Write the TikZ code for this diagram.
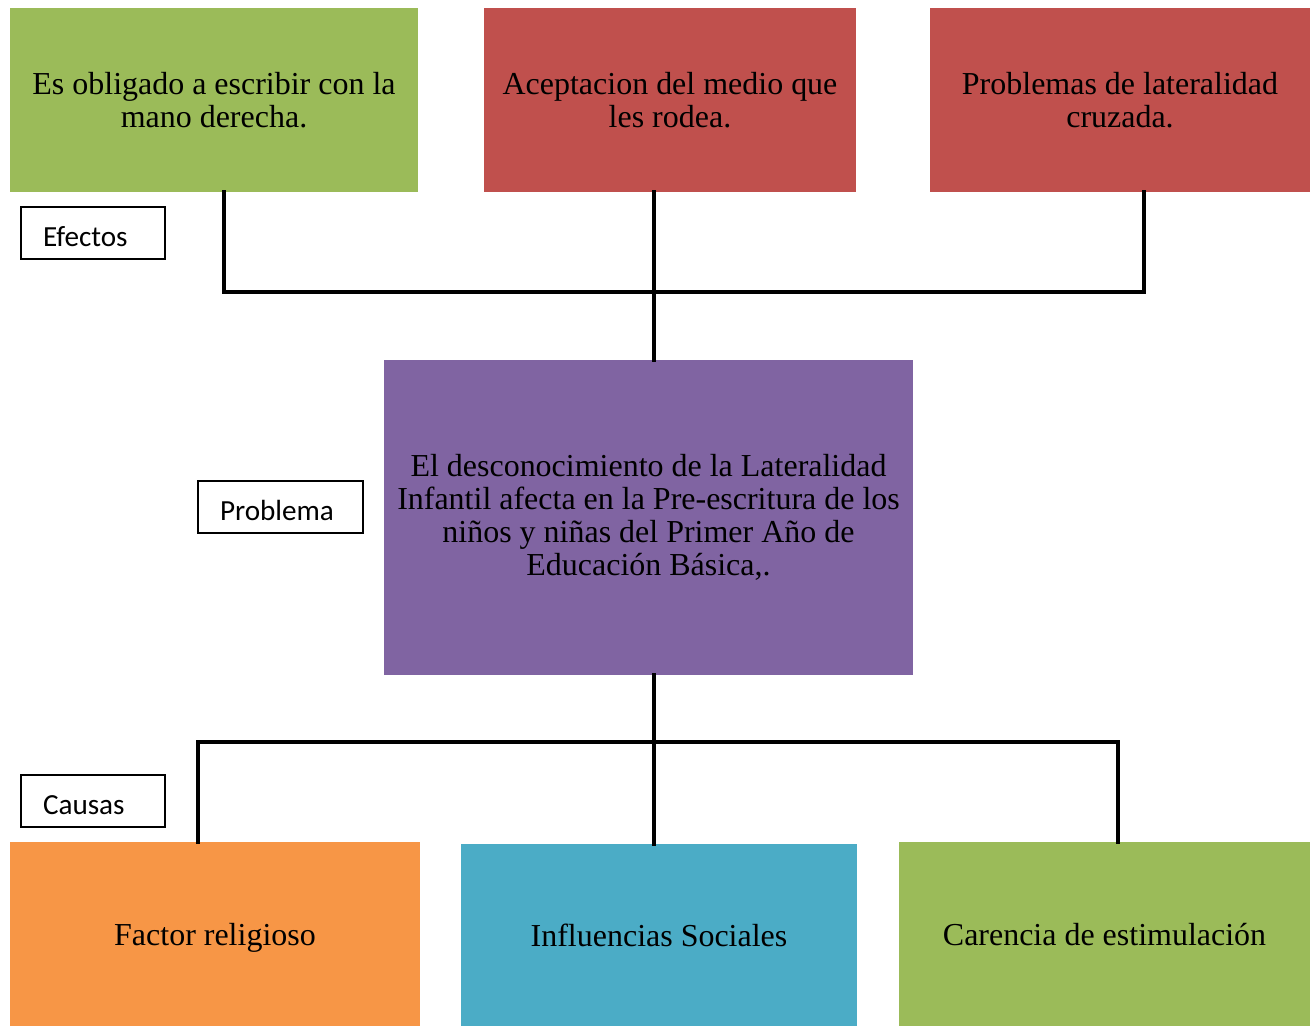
\documentclass[tikz,border=0pt]{standalone}
\usepackage{fontspec}
\setmainfont{Liberation Serif}
\newfontfamily\lblfont{Carlito}
\usetikzlibrary{positioning}

\definecolor{boxgreen}{HTML}{9BBB59}
\definecolor{boxred}{HTML}{C0504D}
\definecolor{boxpurple}{HTML}{8064A2}
\definecolor{boxorange}{HTML}{F79646}
\definecolor{boxblue}{HTML}{4BACC6}

\begin{document}
\begin{tikzpicture}[x=0.02cm, y=-0.02cm]
        \tikzset{
          item/.style={rectangle, inner sep=0pt, align=center,
            font=\fontsize{18.2}{18.8}\selectfont, minimum height=3.68cm},
          tag/.style={rectangle, draw, line width=0.8pt, inner xsep=0.44cm, inner ysep=0pt,
            align=left, minimum height=1.04cm, text height=3.4ex, text depth=0pt,
            font=\lblfont\fontsize{16.6}{18}\selectfont},
          bus/.style={line width=2.1pt, line cap=rect}
        }
        \useasboundingbox (0,0) rectangle (1314,1026);

        % efectos
        \node[item, fill=boxgreen, minimum width=8.16cm] (e_1) at (214,100) {Es obligado a escribir con la\\mano derecha.};
        \node[item, fill=boxred, minimum width=7.44cm] (e_2) at (670,100) {Aceptacion del medio que\\les rodea.};
        \node[item, fill=boxred, minimum width=7.6cm] (e_3) at (1120,100) {Problemas de lateralidad\\cruzada.};

        % problema
        \node[item, fill=boxpurple, minimum width=10.58cm, minimum height=6.3cm] (prob) at (648.5,517.5)
          {El desconocimiento de la Lateralidad\\Infantil afecta en la Pre-escritura de los\\ni\~nos y ni\~nas del Primer A\~no de\\Educaci\'on B\'asica,.};

        % causas
        \node[item, fill=boxorange, minimum width=8.2cm, text depth=0pt] (c_1) at (215,934) {Factor religioso};
        \node[item, fill=boxblue, minimum width=7.92cm, minimum height=3.64cm, text depth=0pt] (c_2) at (659,935) {Influencias Sociales};
        \node[item, fill=boxgreen, minimum width=8.22cm, text depth=0pt] (c_3) at (1104.5,934) {Carencia de estimulaci\'on};

        \node[tag, text width=2.0cm] (t_ef) at (93,233) {Efectos};
        \node[tag, text width=2.42cm] (t_pr) at (280.5,507) {Problema};
        \node[tag, text width=2.0cm] (t_ca) at (93,801) {Causas};

        \coordinate (tl) at (224,292);
        \coordinate (tm) at (654,292);
        \coordinate (tr) at (1144,292);
        \coordinate (bl) at (198,742);
        \coordinate (bm) at (654,742);
        \coordinate (br) at (1118,742);

        \draw[bus] (e_1.south -| tl) -- (tl) -- (tr) -- (e_3.south -| tr);
        \draw[bus] (e_2.south -| tm) -- (prob.north -| tm);
        \draw[bus] (prob.south -| bm) -- (c_2.north -| bm);
        \draw[bus] (c_1.north -| bl) -- (bl) -- (br) -- (c_3.north -| br);
    \end{tikzpicture}
\end{document}
